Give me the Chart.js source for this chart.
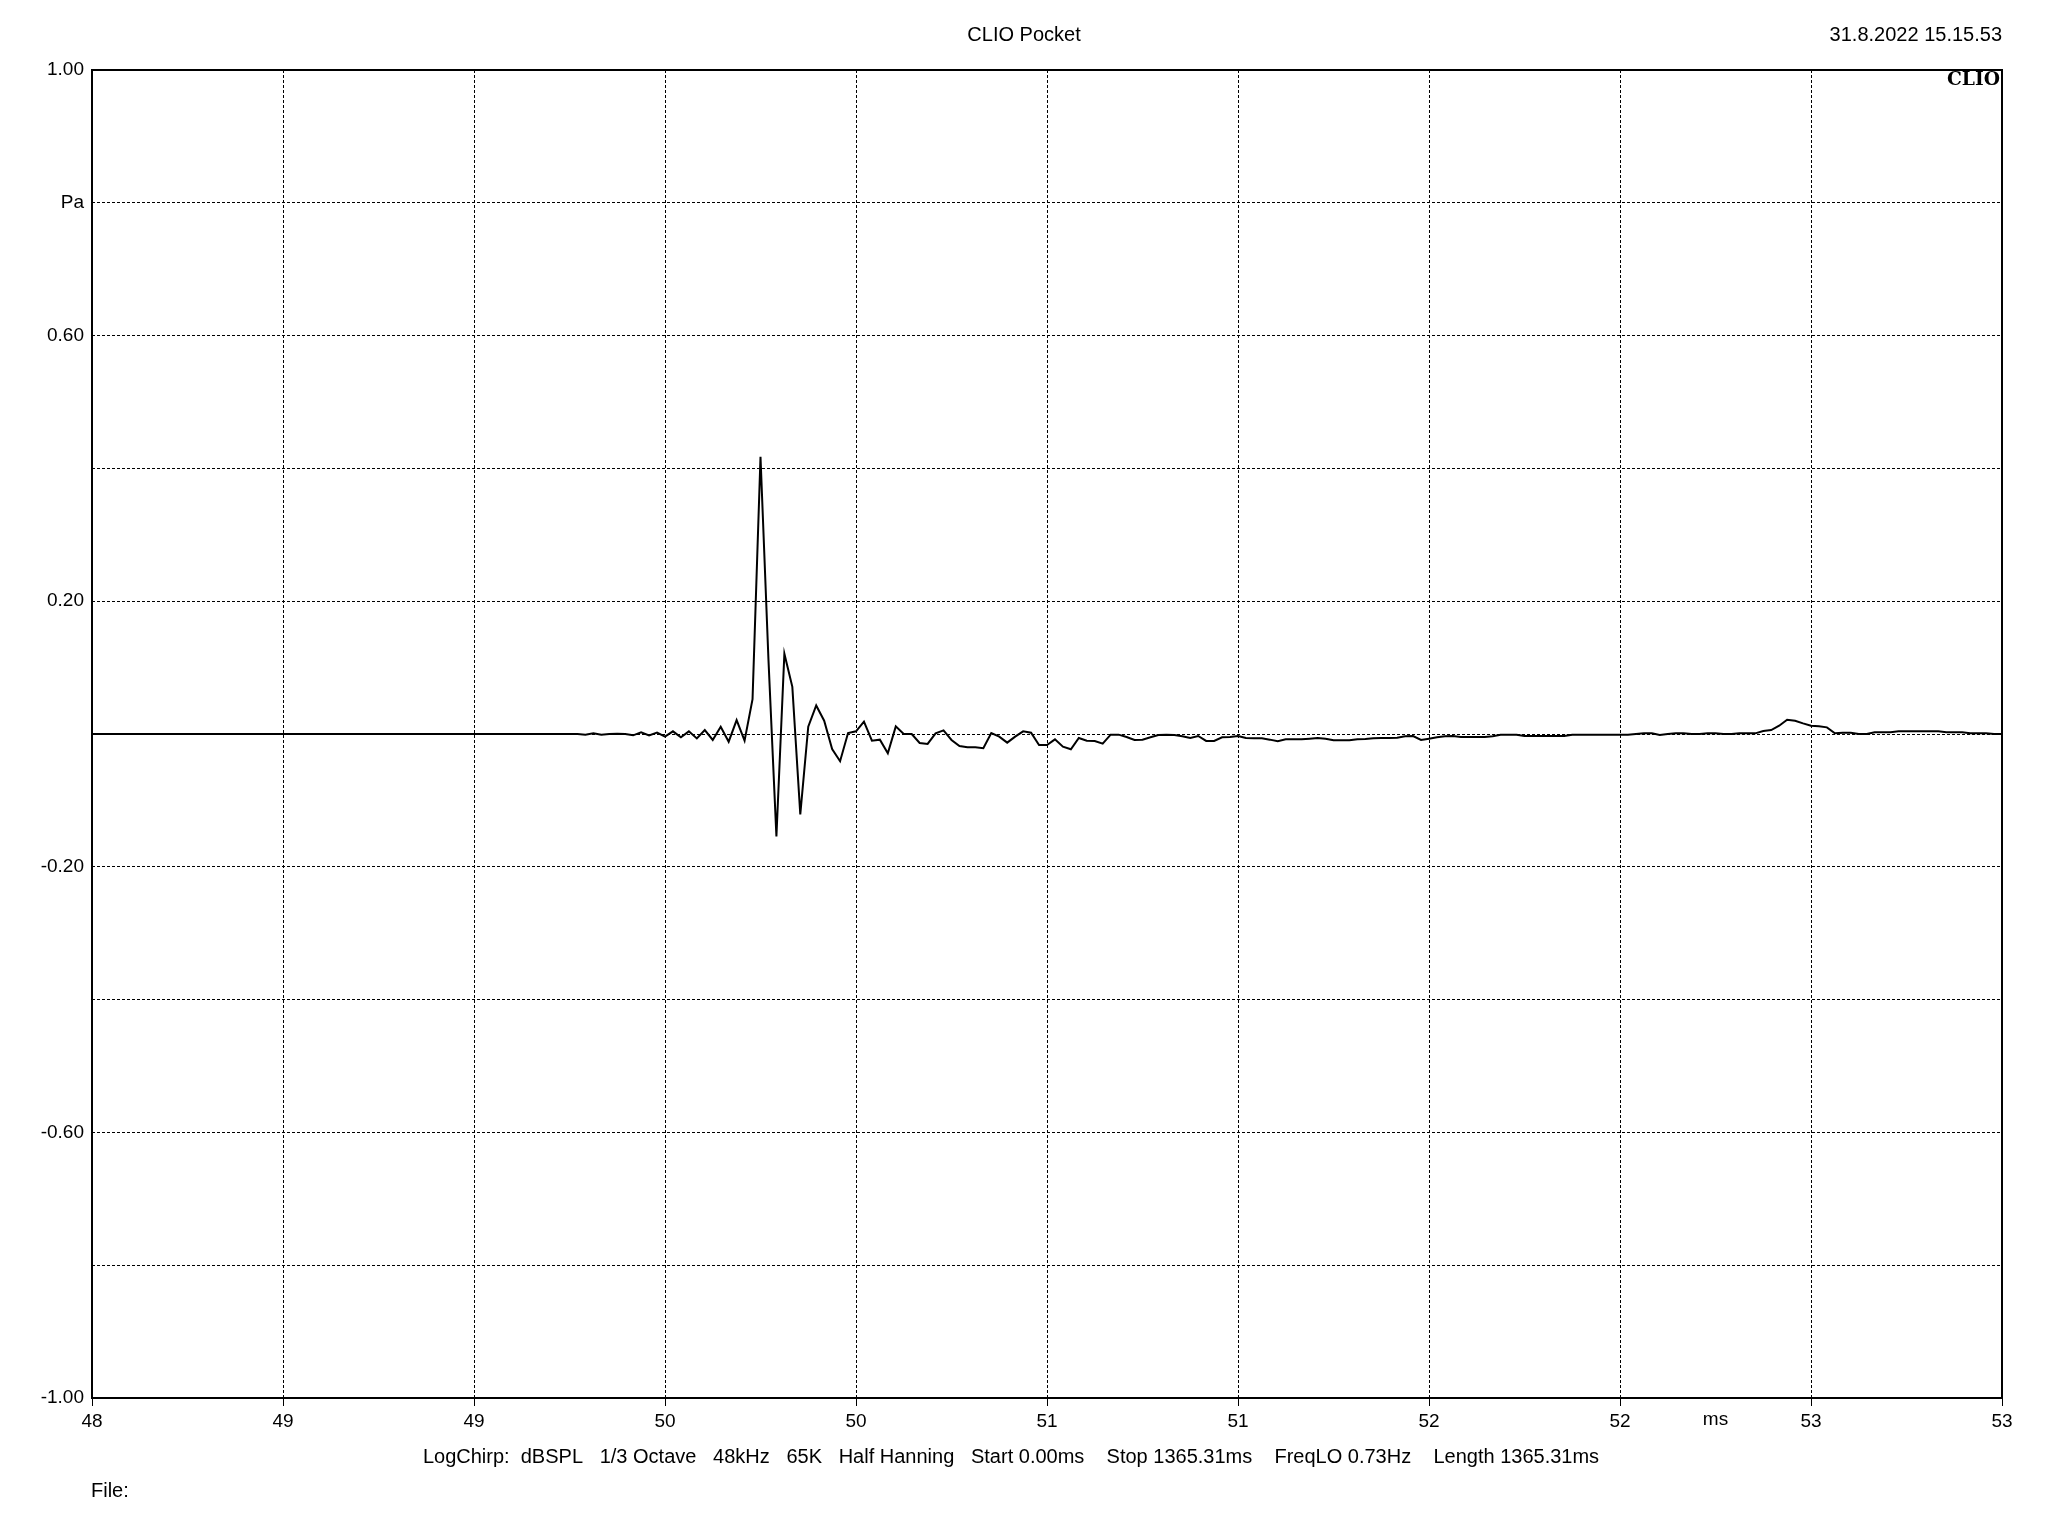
<!DOCTYPE html>
<html>
<head>
<meta charset="utf-8">
<script src="https://cdn.jsdelivr.net/npm/chart.js@4/dist/chart.umd.min.js"></script>
<style>
  body { margin: 0; background: #fff; }
  #wrap { width: 2048px; height: 1536px; }
</style>
</head>
<body>
<div id="wrap"><canvas id="impulse" width="2048" height="1536"></canvas></div>
<script>
// impulse response, one value per sample (48 kHz), starting at 48 ms
const startMs = 48;
const samplesPerMs = 48;
const pressurePa = [
  0, 0, 0, 0, 0, 0, 0, 0, 0, 0,
  0, 0, 0, 0, 0, 0, 0, 0, 0, 0,
  0, 0, 0, 0, 0, 0, 0, 0, 0, 0,
  0, 0, 0, 0, 0, 0, 0, 0, 0, 0,
  0, 0, 0, 0, 0, 0, 0, 0, 0, 0,
  0, 0, 0, 0, 0, 0, 0, 0, 0, 0,
  0, 0, -0.001, 0.001, -0.001, 0, 0.0005, 0, -0.002, 0.0025,
  -0.002, 0.002, -0.004, 0.004, -0.005, 0.004, -0.0066, 0.006, -0.009, 0.011,
  -0.0116, 0.021, -0.010, 0.0526, 0.4175, 0.112, -0.1544, 0.121, 0.071, -0.121,
  0.011, 0.043, 0.020, -0.0226, -0.041, 0.0015, 0.004, 0.0185, -0.010, -0.0085,
  -0.029, 0.0115, 0, 0, -0.0135, -0.015, 0.001, 0.0055, -0.009, -0.018,
  -0.020, -0.020, -0.0215, 0.0015, -0.004, -0.013, -0.004, 0.004, 0.002, -0.0165,
  -0.0165, -0.008, -0.019, -0.023, -0.006, -0.010, -0.0105, -0.0145, -0.001, -0.001,
  -0.0045, -0.009, -0.0085, -0.005, -0.0015, -0.001, -0.0015, -0.0035, -0.006, -0.003,
  -0.0105, -0.0105, -0.005, -0.0045, -0.003, -0.006, -0.0065, -0.0065, -0.0085, -0.011,
  -0.008, -0.008, -0.008, -0.007, -0.006, -0.007, -0.0095, -0.0095, -0.0095, -0.008,
  -0.0075, -0.0065, -0.006, -0.006, -0.0055, -0.0035, -0.003, -0.009, -0.007, -0.005,
  -0.0035, -0.003, -0.0045, -0.0045, -0.0045, -0.0045, -0.0035, -0.001, -0.001, -0.001,
  -0.003, -0.003, -0.003, -0.003, -0.003, -0.003, -0.001, -0.001, -0.001, -0.001,
  -0.001, -0.001, -0.001, -0.001, 0, 0.001, 0.001, -0.0015, 0, 0.001,
  0.001, 0, 0, 0.001, 0.001, 0, 0, 0.001, 0.001, 0.001,
  0.0045, 0.006, 0.0125, 0.0215, 0.020, 0.016, 0.0125, 0.0115, 0.010, 0.001,
  0.002, 0.002, 0, 0, 0.0025, 0.0025, 0.0025, 0.004, 0.004, 0.004,
  0.004, 0.004, 0.004, 0.0025, 0.0025, 0.0025, 0.001, 0.001, 0.001, 0,
  0,
];
const xTickLabels = ["48", "49", "49", "50", "50", "51", "51", "52", "52", "53", "53"];
const yTickLabels = ["-1.00", "", "-0.60", "", "-0.20", "", "0.20", "", "0.60", "Pa", "1.00"];
const xUnit = "ms";
const title = "CLIO Pocket";
const stamp = "31.8.2022 15.15.53";
const logo = "CLIO";
const info = "LogChirp:  dBSPL   1/3 Octave   48kHz   65K   Half Hanning   Start 0.00ms    Stop 1365.31ms    FreqLO 0.73Hz    Length 1365.31ms";
const fileLine = "File:";

const points = pressurePa.map((v, k) => ({ x: startMs + k / samplesPerMs, y: v }));
const sans = "'Liberation Sans', Arial, sans-serif";

const decorations = {
  id: "decorations",
  beforeDraw(chart) {
    const ctx = chart.ctx;
    ctx.save();
    ctx.fillStyle = "#fff";
    ctx.fillRect(0, 0, chart.width, chart.height);
    ctx.restore();
  },
  afterDraw(chart) {
    const { ctx, chartArea: a } = chart;
    const xs = chart.scales.x;
    ctx.save();
    // plot frame
    ctx.lineWidth = 2;
    ctx.strokeStyle = "#000";
    ctx.strokeRect(a.left, a.top, a.right - a.left, a.bottom - a.top);

    ctx.fillStyle = "#000";
    ctx.textBaseline = "middle";
    ctx.font = "20px " + sans;
    ctx.textAlign = "center";
    ctx.fillText(title, chart.width / 2, 35);
    ctx.fillText(info, 1011, 1457);
    ctx.textAlign = "right";
    ctx.fillText(stamp, a.right, 35);
    ctx.textAlign = "left";
    ctx.fillText(fileLine, a.left - 1, 1491);

    ctx.font = "19px " + sans;
    ctx.textAlign = "center";
    ctx.fillText(xUnit, xs.getPixelForValue(52.25), 1420);

    // bold serif logo, stretched a little like the original
    ctx.font = "bold 19px 'DejaVu Serif', 'Liberation Serif', serif";
    const w = ctx.measureText(logo).width;
    ctx.translate(a.right - 2, 80);
    ctx.scale(53 / w, 1);
    ctx.textAlign = "right";
    ctx.fillText(logo, 0, 0);
    ctx.restore();
  },
};

new Chart(document.getElementById("impulse"), {
  type: "line",
  data: {
    datasets: [{
      data: points,
      borderColor: "#000",
      borderWidth: 2,
      pointRadius: 0,
      tension: 0,
      fill: false,
    }],
  },
  options: {
    responsive: false,
    animation: false,
    devicePixelRatio: 1,
    layout: { padding: { top: 70, right: 46, left: 0, bottom: 0 } },
    plugins: { legend: { display: false }, tooltip: { enabled: false } },
    scales: {
      x: {
        type: "linear",
        min: 48,
        max: 53,
        afterFit: (s) => { s.height = 138; },
        grid: { color: "#000", lineWidth: 1, tickLength: 8, tickColor: "#000", tickBorderDash: [] },
        border: { display: false, dash: [3, 2] },
        ticks: {
          stepSize: 0.5,
          autoSkip: false,
          maxRotation: 0,
          padding: 4,
          color: "#000",
          font: { family: sans, size: 19 },
          callback: (v, i) => xTickLabels[i],
        },
      },
      y: {
        type: "linear",
        min: -1,
        max: 1,
        afterFit: (s) => { s.width = 92; },
        grid: { color: "#000", lineWidth: 1, drawTicks: false },
        border: { display: false, dash: [3, 2] },
        ticks: {
          stepSize: 0.2,
          autoSkip: false,
          padding: 8,
          color: "#000",
          font: { family: sans, size: 19 },
          callback: (v, i) => yTickLabels[i],
        },
      },
    },
  },
  plugins: [decorations],
});
</script>
</body>
</html>
